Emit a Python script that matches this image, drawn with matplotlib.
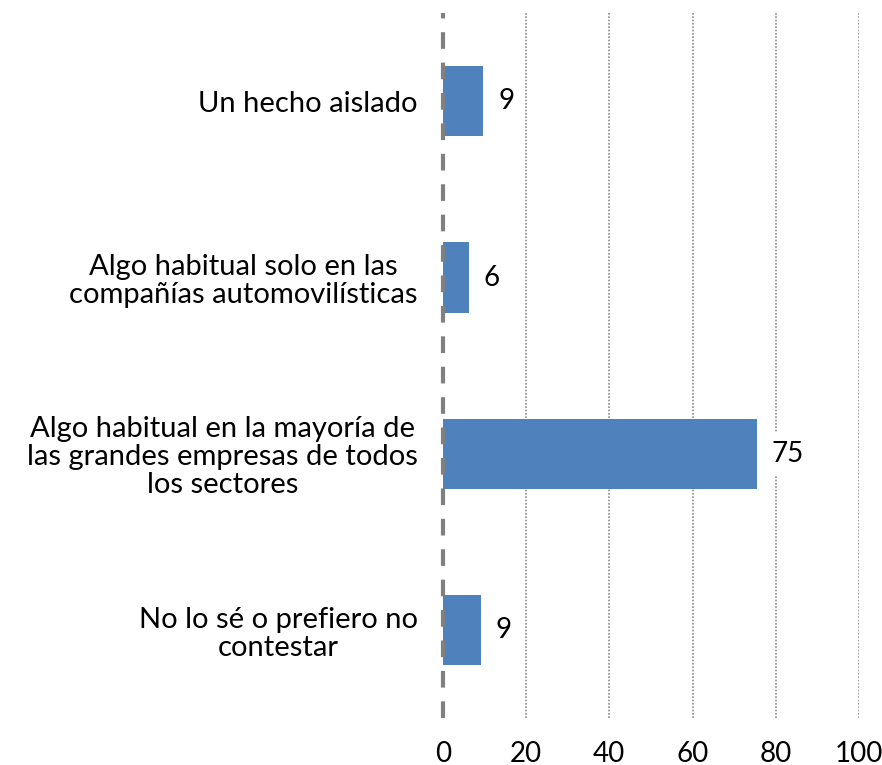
import matplotlib
matplotlib.use('Agg')
import matplotlib.pyplot as plt

categories = [
    'Un hecho aislado',
    'Algo habitual solo en las\ncompañías automovilísticas',
    'Algo habitual en la mayoría de\nlas grandes empresas de todos\nlos sectores',
    'No lo sé o prefiero no\ncontestar',
]
values = [9.6, 6.2, 75.4, 9.1]
value_labels = ['9', '6', '75', '9']
x_ticks = [0, 20, 40, 60, 80, 100]

plt.rcParams['font.family'] = ['Lato', 'DejaVu Sans']

fig = plt.figure(figsize=(8.82, 7.65), dpi=100)
ax = fig.add_axes([0.502, 0.061, 0.472, 0.922])

pos = list(range(len(categories)))
ax.barh(pos, values, height=0.4, color='#4F81BD', zorder=3)
ax.set_ylim(len(categories) - 0.5, -0.5)
ax.set_xlim(0, 100)

for p, v, lab in zip(pos, values, value_labels):
    ax.annotate(lab, (v, p), xytext=(11, 0), textcoords='offset points',
                va='center', ha='left', fontsize=20, color='black', zorder=5,
                bbox=dict(boxstyle='square,pad=0.3', fc='white', ec='none'))

ax.set_yticks(pos)
ax.set_yticklabels(categories, fontsize=21, multialignment='center', linespacing=1.1)
ax.set_xticks(x_ticks)
ax.set_xticklabels([str(t) for t in x_ticks], fontsize=20)
ax.tick_params(axis='both', length=0)
ax.tick_params(axis='y', pad=18)
ax.tick_params(axis='x', pad=16)

for t in x_ticks[1:]:
    ax.axvline(t, color='#8c8c8c', linestyle=(0, (1, 1)), linewidth=1.2, zorder=1)
ax.axvline(0, color='#808080', linestyle=(0, (4, 3.3)), linewidth=3.0,
           zorder=4, clip_on=False)

for s in ax.spines.values():
    s.set_visible(False)

fig.savefig('out.png', dpi=100)
